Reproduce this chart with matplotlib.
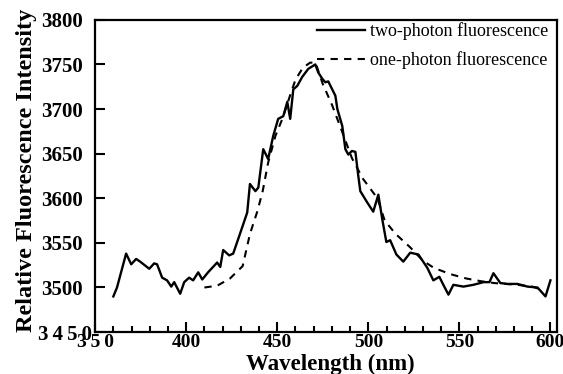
import matplotlib.pyplot as plt
from matplotlib.ticker import MultipleLocator
from matplotlib.transforms import ScaledTranslation

# two-photon fluorescence (solid)
two_x = [360, 362, 367, 369.8, 372.5, 374.7, 379.7, 382.4, 384, 386.8, 389.5, 391.8,
         393.4, 396.7, 398.9, 401.6, 403.8, 406.6, 408.8, 412, 417, 418.7, 420.3,
         423.6, 425.8, 429, 433.5, 435, 438, 439.6, 442.3, 445, 447.8, 450.5, 453.3,
         455.5, 457.1, 458.8, 461, 463.7, 467, 470.9, 472.5, 474.7, 476.4, 478,
         481.9, 483, 485.7, 487.4, 489, 491, 492.9, 494.5, 495.6, 499.5, 502.7,
         505.5, 507.7, 509.9, 512, 515.4, 519.2, 523, 527.5, 532.4, 535.7, 539,
         541.2, 544, 546.7, 552.2, 557.7, 563.2, 566.5, 568.7, 572.5, 576.4, 581.9,
         587.4, 592.9, 597.3, 600]
two_y = [3490, 3500, 3538, 3526, 3532, 3529, 3521, 3527, 3526, 3511, 3508, 3501,
         3506, 3493, 3506, 3511, 3508, 3517, 3509, 3517, 3528, 3523, 3542,
         3536, 3538, 3557, 3584, 3616, 3608, 3612, 3655, 3644, 3670, 3689, 3692,
         3708, 3689, 3722, 3726, 3736, 3745, 3750, 3741, 3734, 3730, 3731,
         3715, 3700, 3681, 3655, 3649, 3653, 3652, 3625, 3608, 3595, 3585,
         3604, 3576, 3551, 3553, 3537, 3529, 3539, 3537, 3522, 3508, 3512,
         3503, 3492, 3503, 3501, 3503, 3506, 3506, 3516, 3505, 3504, 3504,
         3501, 3500, 3490, 3508]

# one-photon fluorescence (dashed)
one_x = [410, 417, 424, 431, 435, 439, 442, 445, 449, 453, 457, 460, 464, 468, 471,
         475, 480, 485, 491, 497, 505, 509, 515, 523, 530, 536, 545, 554, 562, 569,
         582, 590, 596]
one_y = [3500, 3502, 3510, 3524, 3560, 3585, 3608, 3640, 3670, 3690, 3715, 3733,
         3746, 3752, 3752, 3728, 3705, 3678, 3645, 3622, 3600, 3575, 3560, 3545,
         3530, 3522, 3515, 3510, 3507, 3505, 3503, 3501, 3497]

x_ticks = [350, 400, 450, 500, 550, 600]
x_labels = ['3\u20095\u20090', '400', '450', '500', '550', '600']
y_ticks = [3450, 3500, 3550, 3600, 3650, 3700, 3750, 3800]
y_labels = ['3\u20094\u20095\u20090', '3500', '3550', '3600', '3650', '3700', '3750', '3800']

plt.rcParams['font.family'] = ['Liberation Serif', 'DejaVu Serif']

fig = plt.figure(figsize=(5.63, 3.74), dpi=100)
ax = fig.add_axes([0.169, 0.112, 0.82, 0.835])

ax.plot(two_x, two_y, color='black', lw=1.7, label='two-photon fluorescence')
ax.plot(one_x, one_y, color='black', lw=1.5, ls=(0, (3.5, 3)), label='one-photon fluorescence')

ax.set_xlim(350, 603.5)
ax.set_ylim(3450, 3800)
ax.set_xticks(x_ticks)
ax.set_xticklabels(x_labels, fontweight='bold', fontsize=14)
ax.set_yticks(y_ticks)
ax.set_yticklabels(y_labels, fontweight='bold', fontsize=15)
ax.xaxis.set_minor_locator(MultipleLocator(10))
ax.tick_params(axis='both', which='major', direction='in', length=7, width=1.5)
ax.tick_params(axis='x', which='major', pad=1)
ax.tick_params(axis='y', which='major', pad=9)
ax.tick_params(axis='x', which='minor', direction='in', length=4, width=1.5)
for s in ax.spines.values():
    s.set_linewidth(1.6)

# the lowest y label sits closer to the axis in the original
lbl = ax.yaxis.get_major_ticks()[0].label1
lbl.set_transform(lbl.get_transform() + ScaledTranslation(7 / 72, 0, fig.dpi_scale_trans))

ax.set_xlabel('Wavelength (nm)', fontweight='bold', fontsize=16.5)
ax.xaxis.set_label_coords(0.51, -0.07)
ax.set_ylabel('Relative Fluorescence Intensity', fontweight='bold', fontsize=17.5)
ax.yaxis.set_label_coords(-0.126, 0.518)

ax.legend(loc='upper right', frameon=False, fontsize=13, handlelength=2.7,
          handletextpad=0.28, borderaxespad=0.1, labelspacing=0.6,
          bbox_to_anchor=(1.002, 1.02))

fig.savefig('out.png', dpi=100)
